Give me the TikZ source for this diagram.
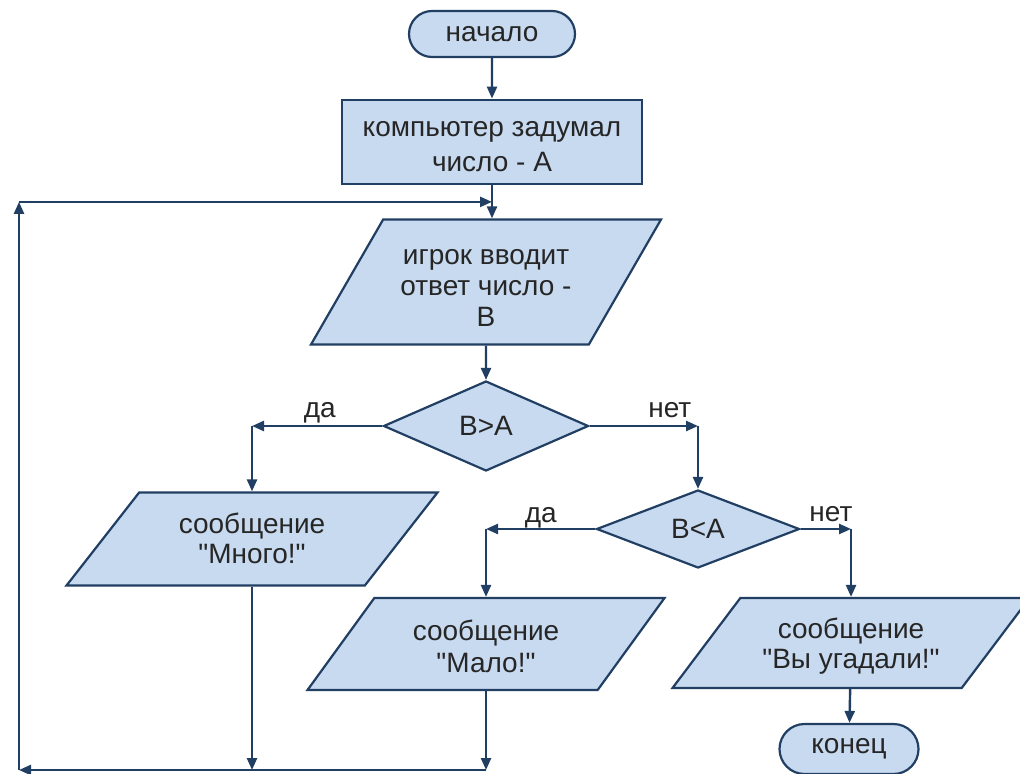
\documentclass[tikz,border=0pt]{standalone}
\usepackage{fontspec}
\setmainfont{Liberation Sans}[Ligatures=TeXOff]
\usetikzlibrary{arrows.meta,shapes.geometric,shapes.misc,calc}
\definecolor{flowline}{RGB}{33,62,99}
\definecolor{flowfill}{RGB}{200,218,240}
\definecolor{flowtext}{RGB}{38,38,38}
% invisible rules that set the room above the first and below the last line
\newcommand{\toppad}[1]{\rule{0pt}{#1}}
\newcommand{\botpad}[1]{\rule[-#1]{0pt}{#1}}

\begin{document}
\begin{tikzpicture}[
  x=0.5pt, y=-0.5pt,
  % ── node styles ──────────────────────────────────────────────────────────
  term/.style={
    draw=flowline, line width=1.1pt, fill=flowfill,
    rounded rectangle, minimum height=23pt, inner sep=1pt,
    text=flowtext, font=\fontsize{14}{16}\selectfont
  },
  proc/.style={
    draw=flowline, line width=1.1pt, fill=flowfill,
    rectangle, minimum width=150pt, inner ysep=3pt,
    align=center, text=flowtext, font=\fontsize{14}{17.5}\selectfont
  },
  io/.style={
    draw=flowline, line width=1.1pt, fill=flowfill,
    trapezium, trapezium stretches body, inner xsep=1pt, inner ysep=4pt,
    align=center, text=flowtext, font=\fontsize{14}{16}\selectfont
  },
  cond/.style={
    draw=flowline, line width=1.1pt, fill=flowfill,
    diamond, inner sep=0pt,
    text=flowtext, font=\fontsize{14}{16}\selectfont
  },
  % connectors with small filled heads
  flow/.style={
    draw=flowline, line width=1.2pt,
    -{Triangle[length=6pt,width=5pt]}
  },
  lbl/.style={
    text=flowtext, font=\fontsize{14}{16}\selectfont, inner sep=0pt
  },
]

\useasboundingbox (0,0) rectangle (1020,774);

% ── Main column ─────────────────────────────────────────────────────────────
\node[term, minimum width=85pt] (start) at (492,34) {начало};
\node[proc] (think) at (492,142)
  {\toppad{15.3pt}компьютер задумал\\число - А\botpad{3.5pt}};
\node[io, trapezium left angle=60, trapezium right angle=120,
      minimum width=175pt, font=\fontsize{14}{15.5}\selectfont]
      (input) at (486,282)
  {\toppad{18.5pt}игрок вводит\\ответ число -\\В\botpad{5pt}};
\node[cond, minimum width=102.5pt, minimum height=45pt] (cmp1) at (486,426) {В>А};

% ── Branches ────────────────────────────────────────────────────────────────
\node[io, trapezium left angle=52, trapezium right angle=128,
      minimum width=185.5pt, font=\fontsize{14}{15}\selectfont]
      (many) at (252,539) {\toppad{16.5pt}сообщение\\"Много!"\botpad{7pt}};
\node[cond, minimum width=101.5pt, minimum height=39pt] (cmp2) at (698,529) {В<А};
\node[io, trapezium left angle=54, trapezium right angle=126,
      minimum width=178.5pt]
      (few) at (486,644) {\toppad{17pt}сообщение\\"Мало!"\botpad{5pt}};
\node[io, trapezium left angle=53, trapezium right angle=127,
      minimum width=178.5pt, font=\fontsize{14}{15}\selectfont]
      (win) at (851,643) {\toppad{16pt}сообщение\\"Вы угадали!"\botpad{6pt}};
\node[term, minimum width=71.5pt, minimum height=25pt] (stop) at (849,749) {конец};

% ── Corner points ───────────────────────────────────────────────────────────
\coordinate (yesL) at (cmp1.west -| many.north);
\coordinate (noR)  at (cmp1.east -| cmp2.north);
\coordinate (yesL2) at (cmp2.west -| few.north);
\coordinate (noR2)  at (cmp2.east -| win.north);
\coordinate (merge) at ($(think.south)!0.5!(think.south |- input.north)$);
\coordinate (lowL) at (19,770);
\coordinate (topL) at (lowL |- merge);
\coordinate (lowM) at (many.south |- lowL);
\coordinate (lowF) at (few.south |- lowL);

% ── Main flow ───────────────────────────────────────────────────────────────
\draw[flow] (start) -- (think);
\draw[flow] (think) -- (think.south |- input.north);
\draw[flow] (input) -- (cmp1);

% ── Decisions ───────────────────────────────────────────────────────────────
\draw[flow] (cmp1.west) -- node[lbl, above=1pt, pos=0.48] {да} (yesL);
\draw[flow] (yesL) -- (many.north);
\draw[flow] (cmp1.east) -- node[lbl, above=3.5pt, pos=0.74] {нет} (noR);
\draw[flow] (noR) -- (cmp2.north);
\draw[flow] (cmp2.west) -- node[lbl, above=0pt, pos=0.5] {да} (yesL2);
\draw[flow] (yesL2) -- (few.north);
\draw[flow] (cmp2.east) -- node[lbl, above=3pt, pos=0.6] {нет} (noR2);
\draw[flow] (noR2) -- (win.north);
\draw[flow] (win) -- (stop);

% ── Loop back to input ──────────────────────────────────────────────────────
\draw[flow] (many.south) -- (lowM);
\draw[flow] (few.south) -- (lowF);
\draw[flow] (lowF) -- (lowL);
\draw[flow] (lowL) -- (topL);
\draw[flow] (topL) -- (merge);

\end{tikzpicture}
\end{document}
